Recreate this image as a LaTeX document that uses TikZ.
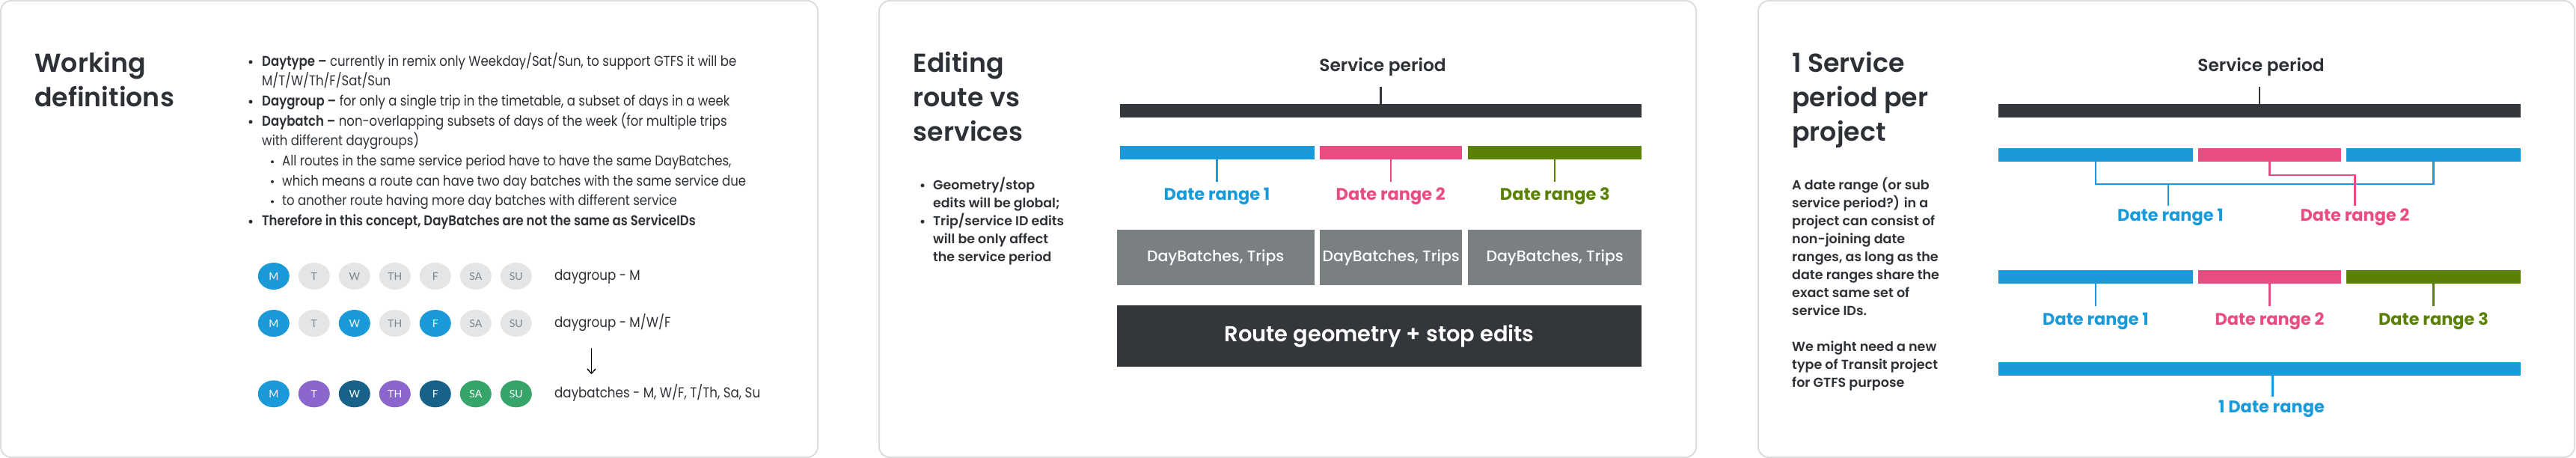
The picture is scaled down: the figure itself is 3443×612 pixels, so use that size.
\documentclass[tikz,border=0pt]{standalone}
\usepackage{fontspec}
\setmainfont{Poppins}
\newfontfamily\popr{Poppins}
\newfontfamily\popn{Poppins}[FakeStretch=0.87]
\newfontfamily\popnsb{Poppins SemiBold}[FakeStretch=0.87]
\newfontfamily\popm{Poppins Medium}
\newfontfamily\popsb{Poppins SemiBold}
\newfontfamily\popb{Poppins Bold}
\newfontfamily\latof{Lato}
\usetikzlibrary{arrows.meta,shapes.geometric}
\definecolor{ink}{HTML}{2D3135}
\definecolor{dkbar}{HTML}{33373B}
\definecolor{cblue}{HTML}{1A9AD9}
\definecolor{cpink}{HTML}{E84C83}
\definecolor{cgreen}{HTML}{5A8103}
\definecolor{gbox}{HTML}{7A7F82}
\definecolor{cgray}{HTML}{E3E5E7}
\definecolor{cgtext}{HTML}{7E8387}
\definecolor{cpurple}{HTML}{8B66CC}
\definecolor{cteal}{HTML}{186189}
\definecolor{cdgreen}{HTML}{37A56A}
\definecolor{pborder}{HTML}{DDDDDD}
\newlength\fitL
\newcommand\fitsize[4]{\settowidth\fitL{\fontsize{10pt}{12pt}\selectfont#1#2}\pgfmathsetmacro\tmpfit{10*#3/\fitL}\global\let#4\tmpfit}
\newcommand\setfs[1]{\fontsize{#1pt}{#1pt}\selectfont}
\AtBeginDocument{%
\fitsize{\popsb}{period per}{182}{\sztitle}%
\fitsize{\popn}{which means a route can have two day batches with the same service due}{620}{\szbody}%
\fitsize{\popsb}{Trip/service ID edits}{175}{\szbul}%
\fitsize{\popsb}{project can consist of}{191}{\szpthree}%
\fitsize{\popsb}{Service period}{169.4}{\szsp}%
\fitsize{\popb}{Date range 2}{146}{\szdr}%
\fitsize{\popm}{DayBatches, Trips}{183.3}{\szdb}%
\fitsize{\popsb}{Route geometry + stop edits}{414}{\szroute}%
\fitsize{\popn}{daybatches - M, W/F, T/Th, Sa, Su}{275}{\szday}%
}
\begin{document}
\begin{tikzpicture}[x=1pt,y=-1pt]
\tikzset{
  panel/.style={draw=pborder, line width=2pt, rounded corners=14pt, fill=white},
  title/.style={anchor=base west, inner sep=0pt, text=ink, font=\popsb\setfs{\sztitle}},
  body/.style={anchor=base west, inner sep=0pt, text=ink, font=\popn\setfs{\szbody}},
  bul/.style={anchor=base west, inner sep=0pt, text=ink, font=\popsb\setfs{\szbul}},
  pthree/.style={anchor=base west, inner sep=0pt, text=ink, font=\popsb\setfs{\szpthree}},
  splabel/.style={anchor=base, inner sep=0pt, text=ink, font=\popsb\setfs{\szsp}},
  drlabel/.style={anchor=base, inner sep=0pt, font=\popb\setfs{\szdr}},
  daylabel/.style={anchor=base west, inner sep=0pt, text=ink, font=\popn\setfs{\szday}},
  bar/.style={rectangle, inner sep=0pt, outer sep=0pt, minimum height=18pt, draw=none},
  gboxst/.style={rectangle, inner sep=0pt, outer sep=0pt, fill=gbox, minimum height=73.2pt, text=white, font=\popm\setfs{\szdb}},
  tick/.style={line width=2.6pt},
  dot/.style={circle, fill=ink, inner sep=0pt, minimum size=#1},
  daycirc/.style={ellipse, inner sep=0pt, minimum width=42pt, minimum height=36pt, font=\latof\setfs{14}}
}
\useasboundingbox (0,0) rectangle (3443,612);
% panels
\draw[panel] (1,1) rectangle (1093,611);
\draw[panel] (1175,1) rectangle (2267,611);
\draw[panel] (2350,1) rectangle (3441,611);

% ---------- Panel 1 ----------
\node[title] (t1a) at (46,97) {Working};
\node[title] (t1b) at (46,143) {definitions};
\foreach \yy in {88.3,141.5,168.3,301.7} \node[dot=5pt] at (335,\yy-5.5) {};
\foreach \yy in {221.7,248.3,275} \node[dot=4pt] at (364,\yy-5.5) {};
\node[body] (l1) at (350,88.3) {{\popnsb Daytype –} currently in remix only Weekday/Sat/Sun, to support GTFS it will be};
\node[body] (l2) at (350,114.7) {M/T/W/Th/F/Sat/Sun};
\node[body] (l3) at (350,141.5) {{\popnsb Daygroup –} for only a single trip in the timetable, a subset of days in a week};
\node[body] (l4) at (350,168.3) {{\popnsb Daybatch –} non-overlapping subsets of days of the week (for multiple trips};
\node[body] (l5) at (350,195) {with different daygroups)};
\node[body] (l6) at (377,221.7) {All routes in the same service period have to have the same DayBatches,};
\node[body] (l7) at (377,248.3) {which means a route can have two day batches with the same service due};
\node[body] (l8) at (377,275) {to another route having more day batches with different service};
\node[body] (l9) at (350,301.7) {\popnsb Therefore in this concept, DayBatches are not the same as ServiceIDs};

\foreach \d/\f/\t [count=\i from 0] in {M/cblue/white,T/cgray/cgtext,W/cgray/cgtext,TH/cgray/cgtext,F/cgray/cgtext,SA/cgray/cgtext,SU/cgray/cgtext}{
  \pgfmathsetmacro\cx{365.8+54*\i}
  \node[daycirc, fill=\f, text=\t] (a\i) at (\cx,369) {\d};
}
\foreach \d/\f/\t [count=\i from 0] in {M/cblue/white,T/cgray/cgtext,W/cblue/white,TH/cgray/cgtext,F/cblue/white,SA/cgray/cgtext,SU/cgray/cgtext}{
  \pgfmathsetmacro\cx{365.8+54*\i}
  \node[daycirc, fill=\f, text=\t] (b\i) at (\cx,432) {\d};
}
\foreach \d/\f [count=\i from 0] in {M/cblue,T/cpurple,W/cteal,TH/cpurple,F/cteal,SA/cdgreen,SU/cdgreen}{
  \pgfmathsetmacro\cx{365.8+54*\i}
  \node[daycirc, fill=\f, text=white] (c\i) at (\cx,526.3) {\d};
}
\node[daylabel] (dl1) at (741,374.8) {daygroup - M};
\node[daylabel] (dl2) at (741,437.5) {daygroup - M/W/F};
\node[daylabel] (dl3) at (741,531.8) {daybatches - M, W/F, T/Th, Sa, Su};
\coordinate (arrS) at (790.5,465);
\coordinate (arrE) at (790.5,500);
\draw[line width=1.4pt, -{Straight Barb[length=6pt,width=11pt]}] (arrS) -- (arrE);

% ---------- Panel 2 ----------
\node[title] (t2a) at (1220.5,97) {Editing};
\node[title] (t2b) at (1220.5,143) {route vs};
\node[title] (t2c) at (1220.5,189) {services};
\foreach \yy in {253.3,301.7} \node[dot=5pt] at (1233,\yy-5.5) {};
\node[bul] (p2a) at (1247,253.3) {Geometry/stop};
\node[bul] (p2b) at (1247,277.3) {edits will be global;};
\node[bul] (p2c) at (1247,301.7) {Trip/service ID edits};
\node[bul] (p2d) at (1247,325.7) {will be only affect};
\node[bul] (p2e) at (1247,349.3) {the service period};

\node[splabel] (sp2l) at (1848,95.7) {Service period};
\node[bar, fill=dkbar, minimum width=697.3pt] (sp2) at (1845.65,148.3) {};
\coordinate (sp2t) at (1845.65,116);
\draw[tick, dkbar] (sp2t) -- (sp2.north);

\node[bar, fill=cblue, minimum width=259.5pt] (d21) at (1626.75,204) {};
\node[bar, fill=cpink, minimum width=190.3pt] (d22) at (1859.15,204) {};
\node[bar, fill=cgreen, minimum width=232.3pt] (d23) at (2078.15,204) {};
\coordinate (d21t) at (1626.75,243);
\coordinate (d22t) at (1859.15,243);
\coordinate (d23t) at (2078.15,243);
\draw[tick, cblue] (d21.south) -- (d21t);
\draw[tick, cpink] (d22.south) -- (d22t);
\draw[tick, cgreen] (d23.south) -- (d23t);
\node[drlabel, text=cblue] (r21) at (1626.5,267.3) {Date range 1};
\node[drlabel, text=cpink] (r22) at (1858.7,267.3) {Date range 2};
\node[drlabel, text=cgreen] (r23) at (2078.3,267.3) {Date range 3};

\node[gboxst, minimum width=263.5pt] (g1) at (1624.75,344.1) {DayBatches, Trips};
\node[gboxst, minimum width=190.3pt] (g2) at (1859.15,344.1) {DayBatches, Trips};
\node[gboxst, minimum width=232.3pt] (g3) at (2078.15,344.1) {DayBatches, Trips};
\node[rectangle, inner sep=0pt, fill=dkbar, minimum width=701.3pt, minimum height=81.7pt, text=white, font=\popsb\setfs{\szroute}] (rg) at (1843.65,449.2) {Route geometry + stop edits};

% ---------- Panel 3 ----------
\node[title] (t3a) at (2395,97) {1 Service};
\node[title] (t3b) at (2395,143) {period per};
\node[title] (t3c) at (2395,189) {project};
\node[pthree] (q1) at (2395,253.3) {A date range (or sub};
\node[pthree] (q2) at (2395,277.3) {service period?) in a};
\node[pthree] (q3) at (2395,301.7) {project can consist of};
\node[pthree] (q4) at (2395,325.7) {non-joining date};
\node[pthree] (q5) at (2395,349.7) {ranges, as long as the};
\node[pthree] (q6) at (2395,373.7) {date ranges share the};
\node[pthree] (q7) at (2395,397.7) {exact same set of};
\node[pthree] (q8) at (2395,421.7) {service IDs.};
\node[pthree] (q9) at (2395,469.6) {We might need a new};
\node[pthree] (q10) at (2395,493.6) {type of Transit project};
\node[pthree] (q11) at (2395,517.6) {for GTFS purpose};

\node[splabel] (sp3l) at (3022,95.7) {Service period};
\node[bar, fill=dkbar, minimum width=698pt] (sp3) at (3020,148.3) {};
\coordinate (sp3t) at (3020,116);
\draw[tick, dkbar] (sp3t) -- (sp3.north);

% row 1
\node[bar, fill=cblue, minimum width=260pt] (e1) at (2801,206.8) {};
\node[bar, fill=cpink, minimum width=191pt] (e2) at (3033.5,206.8) {};
\node[bar, fill=cblue, minimum width=233pt] (e3) at (3252.5,206.8) {};
\node[drlabel, text=cblue] (s1) at (2901,295.5) {Date range 1};
\node[drlabel, text=cpink] (s2) at (3147.5,295.5) {Date range 2};
\coordinate (ej1) at (2801,246);
\coordinate (ej2) at (3252.5,246);
\coordinate (ejm) at (2898,246);
\coordinate (ejd) at (2898,275);
\draw[tick, cblue] (e1.south) -- (ej1) -- (ej2) -- (e3.south);
\draw[tick, cblue] (ejm) -- (ejd);
\coordinate (pk1) at (3033.5,234);
\coordinate (pk2) at (3147.5,234);
\coordinate (pk3) at (3147.5,275);
\draw[tick, cpink] (e2.south) -- (pk1) -- (pk2) -- (pk3);

% row 2
\node[bar, fill=cblue, minimum width=260pt] (f1) at (2801,370.2) {};
\node[bar, fill=cpink, minimum width=191pt] (f2) at (3033.5,370.2) {};
\node[bar, fill=cgreen, minimum width=233pt] (f3) at (3252.5,370.2) {};
\coordinate (f1t) at (2801,409);
\coordinate (f2t) at (3033.5,409);
\coordinate (f3t) at (3252.5,409);
\draw[tick, cblue] (f1.south) -- (f1t);
\draw[tick, cpink] (f2.south) -- (f2t);
\draw[tick, cgreen] (f3.south) -- (f3t);
\node[drlabel, text=cblue] (u1) at (2801,434.4) {Date range 1};
\node[drlabel, text=cpink] (u2) at (3033.5,434.4) {Date range 2};
\node[drlabel, text=cgreen] (u3) at (3252.5,434.4) {Date range 3};

% row 3
\node[bar, fill=cblue, minimum width=698pt] (h1) at (3020,493.4) {};
\coordinate (h1t) at (3037.5,530);
\draw[tick, cblue] (h1.south -| h1t) -- (h1t);
\node[drlabel, text=cblue] (v1) at (3036,551.5) {1 Date range};
\end{tikzpicture}
\end{document}
